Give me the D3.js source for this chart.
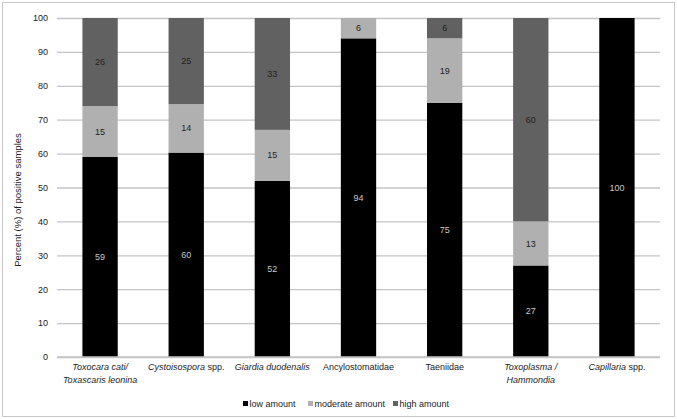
<!DOCTYPE html>
<html>
<head>
<meta charset="utf-8">
<script src="https://cdn.jsdelivr.net/npm/d3@7"></script>
<style>
  html, body { margin: 0; padding: 0; background: #fff; }
  svg { display: block; font-family: "Liberation Sans", Arial, sans-serif; }
</style>
</head>
<body>
<svg id="chart" width="677" height="419"></svg>
<script>
// Categories: each label is a list of lines, each line a list of [text, italic] parts
const categories = ["Toxocara", "Cystoisospora", "Giardia", "Ancylostomatidae", "Taeniidae", "Toxoplasma", "Capillaria"];
const categoryLabels = [
  [[["Toxocara cati/", true]], [["Toxascaris leonina", true]]],
  [[["Cystoisospora", true], [" spp.", false]]],
  [[["Giardia duodenalis", true]]],
  [[["Ancylostomatidae", false]]],
  [[["Taeniidae", false]]],
  [[["Toxoplasma /", true]], [["Hammondia", true]]],
  [[["Capillaria", true], [" spp.", false]]]
];
const seriesNames = ["low amount", "moderate amount", "high amount"];
const lowValues = [59, 60.3, 52, 94, 75, 27, 100];
const moderateValues = [15, 14.3, 15, 6, 19, 13, 0];
const highValues = [26, 25.4, 33, 0, 6, 60, 0];
const yTicks = [0, 10, 20, 30, 40, 50, 60, 70, 80, 90, 100];
const yTitle = "Percent (%) of positive samples";

const colors = ["#000000", "#b0b0b0", "#616161"];
const labelColors = ["#c8c8c8", "#222222", "#222222"];

const svg = d3.select("#chart");
const W = 677, H = 419;

// outer frame
svg.append("rect").attr("x", 2.5).attr("y", 2.5).attr("width", W - 5).attr("height", H - 5)
  .attr("fill", "#fff").attr("stroke", "#c8c8c8").attr("stroke-width", 1);

const plot = { left: 57, right: 660, top: 18, bottom: 357 };

const x = d3.scaleBand().domain(categories).range([plot.left, plot.right]).paddingInner(0.59).paddingOuter(0.295);
const y = d3.scaleLinear().domain([0, 100]).range([plot.bottom, plot.top]);

// gridlines
const yAxis = d3.axisLeft(y).tickValues(yTicks).tickSize(-(plot.right - plot.left)).tickPadding(9);
const gy = svg.append("g").attr("transform", `translate(${plot.left},0)`).call(yAxis);
gy.select(".domain").remove();
gy.selectAll(".tick line").attr("stroke", "#c4c4c4").attr("stroke-width", 1.3);
gy.selectAll(".tick text").attr("font-size", 9).attr("fill", "#222").attr("font-family", "Liberation Sans, Arial, sans-serif");

// stacked data
const rows = categories.map((c, i) => ({ cat: c, low: lowValues[i], moderate: moderateValues[i], high: highValues[i] }));
const keys = ["low", "moderate", "high"];
const stack = d3.stack().keys(keys)(rows);

stack.forEach((layer, li) => {
  const g = svg.append("g");
  g.selectAll("rect").data(layer.filter(d => d[1] - d[0] > 0)).join("rect")
    .attr("x", d => x(d.data.cat))
    .attr("width", x.bandwidth())
    .attr("y", d => y(d[1]))
    .attr("height", d => y(d[0]) - y(d[1]))
    .attr("fill", colors[li]);
  g.selectAll("text").data(layer.filter(d => d[1] - d[0] > 0)).join("text")
    .attr("x", d => x(d.data.cat) + x.bandwidth() / 2)
    .attr("y", d => (y(d[0]) + y(d[1])) / 2)
    .attr("dy", "0.35em")
    .attr("text-anchor", "middle")
    .attr("font-size", 9)
    .attr("fill", labelColors[li])
    .text(d => Math.round(d[1] - d[0]));
});

// baseline
svg.append("line").attr("x1", plot.left).attr("x2", plot.right).attr("y1", y(0)).attr("y2", y(0))
  .attr("stroke", "#c4c4c4").attr("stroke-width", 1.3);

// x labels
categories.forEach((c, i) => {
  const lines = categoryLabels[i];
  lines.forEach((parts, li) => {
    const t = svg.append("text")
      .attr("x", x(c) + x.bandwidth() / 2)
      .attr("y", 370 + li * 13)
      .attr("text-anchor", "middle")
      .attr("font-size", 9)
      .attr("fill", "#222");
    parts.forEach(([txt, it]) => {
      t.append("tspan").attr("font-style", it ? "italic" : "normal").text(txt);
    });
  });
});

// y title
svg.append("text")
  .attr("transform", `translate(21,200) rotate(-90)`)
  .attr("text-anchor", "middle")
  .attr("font-size", 9.5)
  .attr("fill", "#222")
  .text(yTitle);

// legend
const legendX = [243, 308, 393];
seriesNames.forEach((s, i) => {
  svg.append("rect").attr("x", legendX[i]).attr("y", 401).attr("width", 5).attr("height", 5).attr("fill", colors[i]);
  svg.append("text").attr("x", legendX[i] + 6.5).attr("y", 407).attr("font-size", 9).attr("fill", "#222").text(s);
});
</script>
</body>
</html>
